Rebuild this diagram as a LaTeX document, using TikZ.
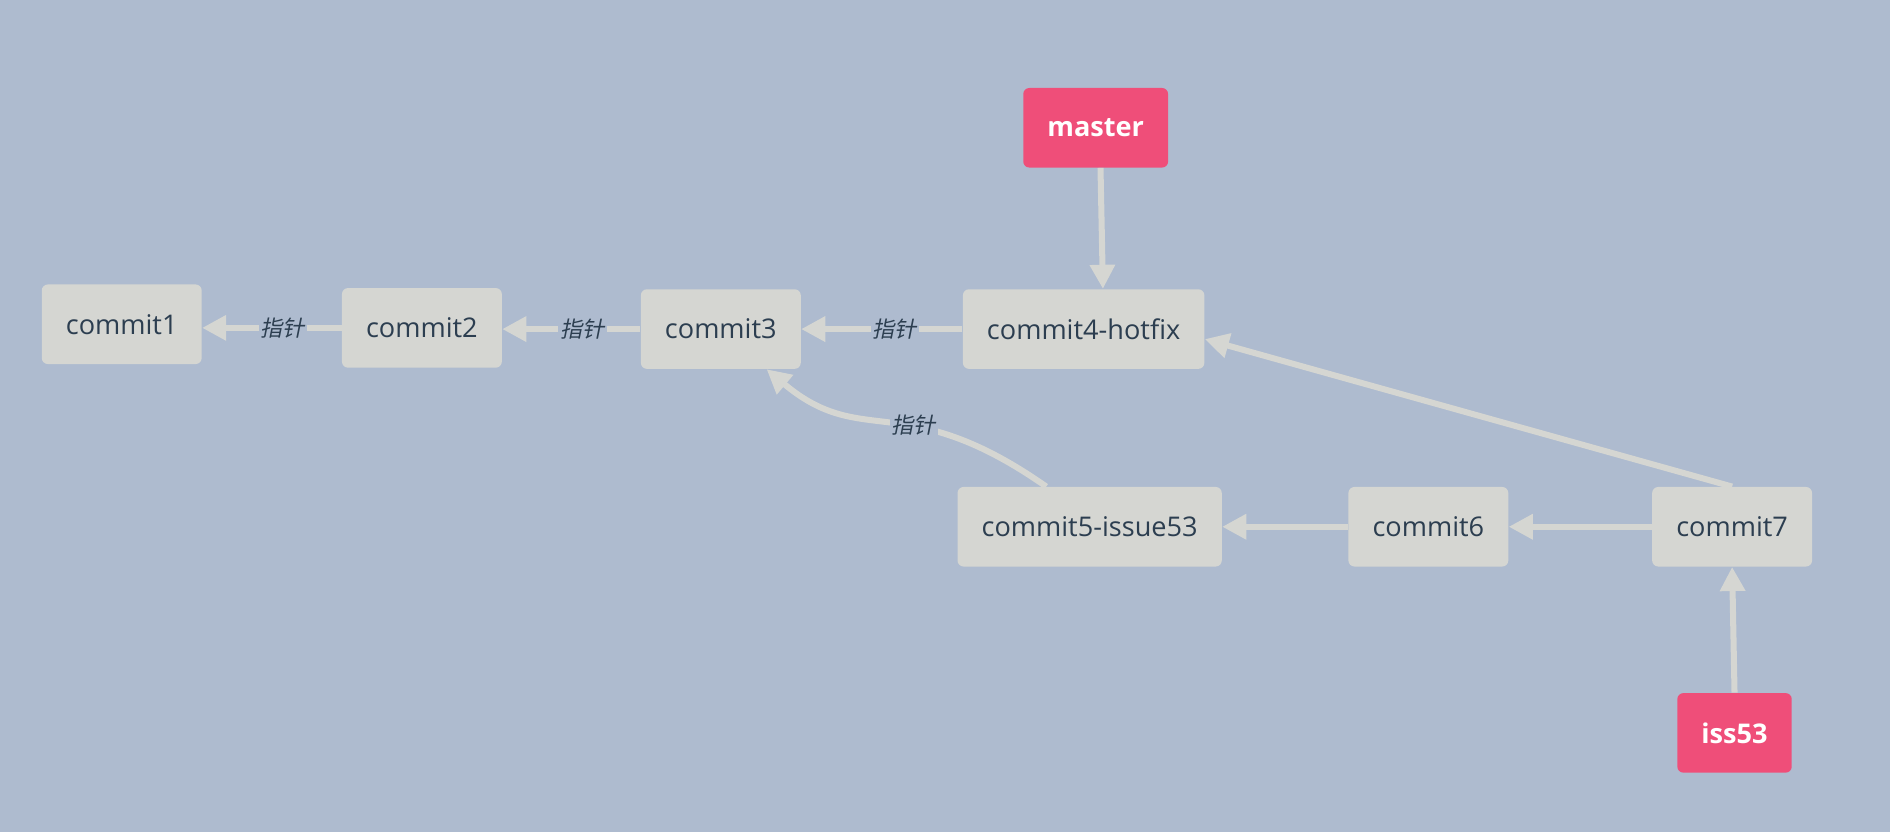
\documentclass[tikz,border=0pt]{standalone}
\usepackage{fontspec}
\setmainfont{Open Sans}
\newfontfamily\cjk[FakeSlant=0.2]{Noto Sans CJK SC}
\usepackage{tikz}
\usetikzlibrary{arrows.meta,positioning}

\definecolor{bgblue}{HTML}{AEBBCF}
\definecolor{boxgrey}{HTML}{D5D6D2}
\definecolor{inkblue}{HTML}{2C3E50}
\definecolor{branchred}{HTML}{EF4E79}

\tikzset{
  commit/.style={rectangle, rounded corners=3pt, fill=boxgrey, text=inkblue,
    font=\fontsize{13.5}{16}\selectfont, minimum height=39.6pt, inner xsep=12pt},
  branch/.style={commit, fill=branchred, text=white, font=\fontsize{13.5}{16}\selectfont\bfseries},
  link/.style={draw=boxgrey, line width=3pt, -{Triangle[length=12pt,width=12pt]}},
  ptr/.style={fill=bgblue, text=inkblue, inner sep=1pt, font=\cjk\fontsize{11}{13}\selectfont}
}

\begin{document}
\begin{tikzpicture}[x=0.6pt,y=0.6pt]
%background
\fill[bgblue] (0,0) rectangle (1568,-690);
%commits
\node[commit] (c1) at (101,-269) {commit1};
\node[commit] (c2) at (350,-272) {commit2};
\node[commit] (c3) at (598,-273) {commit3};
\node[commit] (c4) at (899,-273) {commit4-hotfix};
\node[commit] (c5) at (904,-437) {commit5-issue53};
\node[commit] (c6) at (1185,-437) {commit6};
\node[commit] (c7) at (1437,-437) {commit7};
%branches
\node[branch] (master) at (909,-106) {master};
\node[branch] (iss53) at (1439,-608) {iss53};
%links
\draw[link] (c2.west) -- (c2.west -| c1.east) node[ptr, pos=0.42] {指针};
\draw[link] (c3.west) -- (c3.west -| c2.east) node[ptr, pos=0.42] {指针};
\draw[link] (c4.west) -- (c4.west -| c3.east) node[ptr, pos=0.42] {指针};
\draw[link] ([xshift=-21.6pt]c5.north) .. controls +(145:145) and +(-40:105) .. ([xshift=22.8pt]c3.south) node[ptr, pos=0.4] {指针};
\draw[link] ([xshift=2.4pt]master.south) -- ([xshift=9.6pt]c4.north);
\draw[link] (c7.north) -- ([yshift=-5pt]c4.east);
\draw[link] (c6.west) -- (c5.east);
\draw[link] (c7.west) -- (c6.east);
\draw[link] (iss53.north) -- (c7.south);
\end{tikzpicture}
\end{document}
